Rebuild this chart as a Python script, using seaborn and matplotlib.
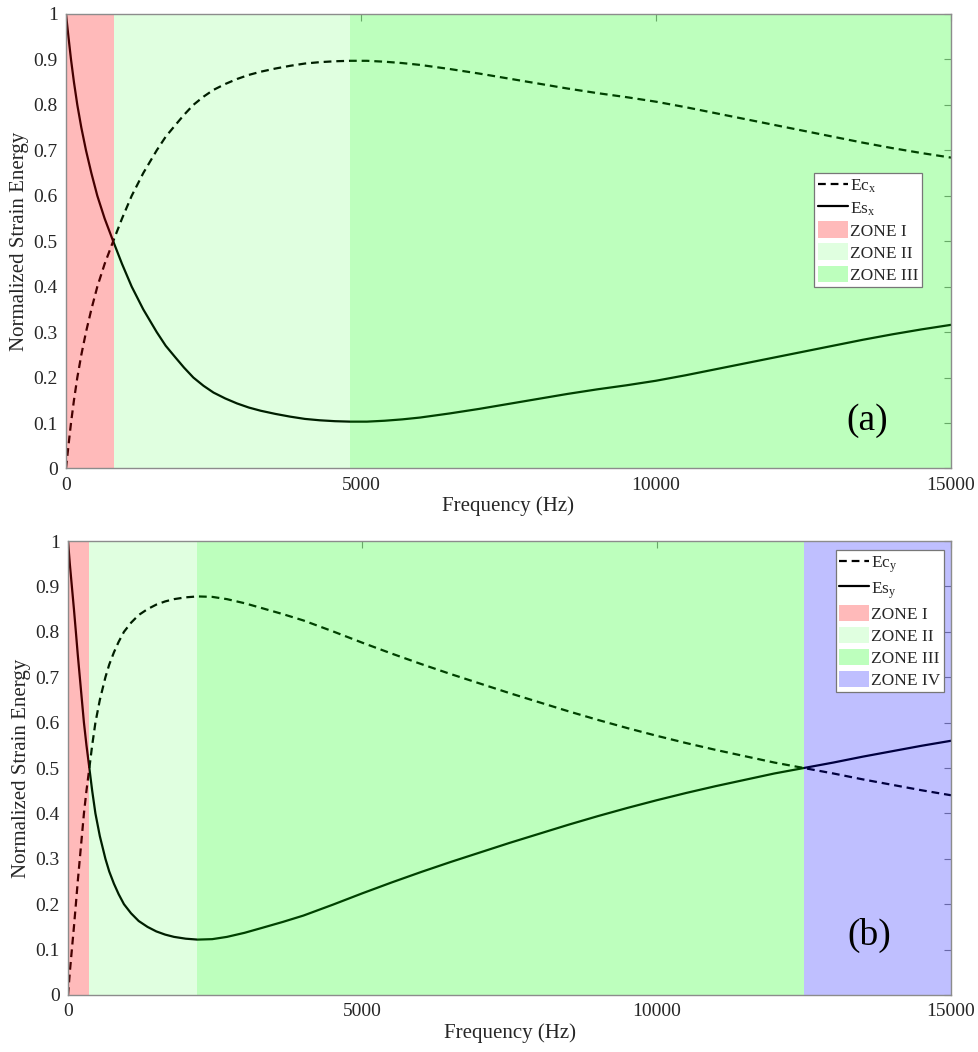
import numpy as np
import pandas as pd
import matplotlib
matplotlib.use("Agg")
import matplotlib.pyplot as plt
from matplotlib.patches import Patch
from matplotlib.lines import Line2D
import seaborn as sns

# ---------------- data ----------------
freq_x = [0, 40, 85, 135, 192, 260, 339, 430, 531, 655, 800, 950, 1114, 1310,
          1538, 1690, 1850, 2000, 2159, 2330, 2500, 2700, 2900, 3100, 3300,
          3550, 3800, 4050, 4300, 4560, 4820, 5100, 5400, 5700, 6000, 6500,
          7000, 7500, 8000, 8500, 9000, 9500, 10000, 10500, 11000, 11500,
          12000, 12500, 13000, 13500, 14000, 14500, 15000]
es_x = [1.000, 0.952, 0.900, 0.850, 0.800, 0.750, 0.700, 0.650, 0.600, 0.550,
        0.500, 0.450, 0.400, 0.350, 0.300, 0.270, 0.245, 0.222, 0.200, 0.182,
        0.167, 0.154, 0.143, 0.134, 0.127, 0.120, 0.114, 0.109, 0.106, 0.104,
        0.103, 0.103, 0.105, 0.108, 0.112, 0.121, 0.131, 0.142, 0.153, 0.164,
        0.174, 0.183, 0.193, 0.205, 0.218, 0.231, 0.244, 0.257, 0.270, 0.283,
        0.295, 0.306, 0.316]
ec_x = [0.000, 0.048, 0.100, 0.150, 0.200, 0.250, 0.300, 0.350, 0.400, 0.450,
        0.500, 0.550, 0.600, 0.650, 0.700, 0.730, 0.755, 0.778, 0.800, 0.818,
        0.833, 0.846, 0.857, 0.866, 0.873, 0.880, 0.886, 0.891, 0.894, 0.896,
        0.897, 0.897, 0.895, 0.892, 0.888, 0.879, 0.869, 0.858, 0.847, 0.836,
        0.826, 0.817, 0.807, 0.795, 0.782, 0.769, 0.756, 0.743, 0.730, 0.717,
        0.705, 0.694, 0.684]

freq_y = [0, 30, 65, 100, 133, 165, 200, 235, 270, 313, 362, 410, 465, 540, 635,
          700, 780, 860, 950, 1070, 1200, 1350, 1500, 1650, 1800, 2000, 2200,
          2450, 2700, 3000, 3300, 3650, 4000, 4500, 5000, 5500, 6000, 6500,
          7000, 7500, 8000, 8500, 9000, 9500, 10000, 10500, 11000, 11500,
          12000, 12500, 13000, 13500, 14000, 14500, 15000]
es_y = [1.000, 0.950, 0.900, 0.850, 0.800, 0.750, 0.700, 0.650, 0.600, 0.550,
        0.500, 0.450, 0.400, 0.350, 0.300, 0.272, 0.245, 0.222, 0.200, 0.180,
        0.163, 0.150, 0.140, 0.133, 0.128, 0.124, 0.122, 0.123, 0.128, 0.137,
        0.148, 0.161, 0.175, 0.199, 0.224, 0.248, 0.271, 0.293, 0.314, 0.335,
        0.355, 0.375, 0.394, 0.412, 0.429, 0.445, 0.460, 0.474, 0.488, 0.500,
        0.512, 0.525, 0.537, 0.549, 0.560]
ec_y = [0.000, 0.050, 0.100, 0.150, 0.200, 0.250, 0.300, 0.350, 0.400, 0.450,
        0.500, 0.550, 0.600, 0.650, 0.700, 0.728, 0.755, 0.778, 0.800, 0.820,
        0.837, 0.850, 0.860, 0.867, 0.872, 0.876, 0.878, 0.877, 0.872, 0.863,
        0.852, 0.839, 0.825, 0.801, 0.776, 0.752, 0.729, 0.707, 0.686, 0.665,
        0.645, 0.625, 0.606, 0.588, 0.571, 0.555, 0.540, 0.526, 0.512, 0.500,
        0.488, 0.475, 0.463, 0.451, 0.440]

zone_edges_a = [0, 812, 4820, 15000]
zone_edges_b = [0, 362, 2196, 12500, 15000]
zone_names = ["ZONE I", "ZONE II", "ZONE III", "ZONE IV"]
zone_colors = ["#ff0000", "#00ff00", "#00ff00", "#0000ff"]
zone_alphas = [0.27, 0.12, 0.26, 0.25]

ytick_vals = [0, 0.1, 0.2, 0.3, 0.4, 0.5, 0.6, 0.7, 0.8, 0.9, 1.0]
ytick_labels = ["0", "0.1", "0.2", "0.3", "0.4", "0.5", "0.6", "0.7", "0.8", "0.9", "1"]
xtick_vals = [0, 5000, 10000, 15000]
xtick_labels = ["0", "5000", "10000", "15000"]

# ---------------- style ----------------
sns.set_theme(style="white")
plt.rcParams["font.family"] = ["Liberation Serif", "DejaVu Serif"]
plt.rcParams["mathtext.fontset"] = "custom"
plt.rcParams["mathtext.rm"] = "Liberation Serif"
plt.rcParams["mathtext.it"] = "Liberation Serif:italic"

DASH = (0, (3.5, 2.2))
FRAME = "#8c8c8c"
TXT = "#262626"

fig = plt.figure(figsize=(9.79, 10.52), dpi=100)
ax1 = fig.add_axes([0.0674, 0.5547, 0.9040, 0.4320])
ax2 = fig.add_axes([0.0695, 0.0542, 0.9019, 0.4315])


def draw(ax, freq, ec, es, edges, sub, panel, anchor, nzones):
    df = pd.DataFrame({"freq": freq, "ec": ec, "es": es})
    sns.lineplot(data=df, x="freq", y="ec", ax=ax, color="black", lw=1.6,
                 linestyle=DASH, estimator=None, zorder=2)
    sns.lineplot(data=df, x="freq", y="es", ax=ax, color="black", lw=1.6,
                 estimator=None, zorder=2)
    for i in range(nzones):
        ax.axvspan(edges[i], edges[i + 1], color=zone_colors[i],
                   alpha=zone_alphas[i], lw=0, zorder=2.2)
    ax.set_xlim(0, 15000)
    ax.set_ylim(0, 1)
    ax.set_xticks(xtick_vals)
    ax.set_xticklabels(xtick_labels)
    ax.set_yticks(ytick_vals)
    ax.set_yticklabels(ytick_labels)
    ax.tick_params(direction="in", top=True, right=True, length=5, width=0.8,
                   color=FRAME, labelsize=14, labelcolor=TXT, pad=6)
    for s in ax.spines.values():
        s.set_color(FRAME)
        s.set_linewidth(1.0)
        s.set_zorder(5)
    ax.set_xlabel("Frequency (Hz)", fontsize=15, color=TXT, labelpad=2)
    ax.set_ylabel("Normalized Strain Energy", fontsize=15, color=TXT,
                  labelpad=3)
    handles = [Line2D([], [], color="black", lw=1.6, linestyle=DASH),
               Line2D([], [], color="black", lw=1.6)]
    labels = [r"Ec$_{\mathrm{%s}}$" % sub, r"Es$_{\mathrm{%s}}$" % sub]
    for i in range(nzones):
        handles.append(Patch(facecolor=zone_colors[i], alpha=zone_alphas[i],
                             edgecolor="none"))
        labels.append(zone_names[i])
    leg = ax.legend(handles, labels, loc="upper right", bbox_to_anchor=anchor,
                    bbox_transform=ax.transAxes, fontsize=12.5, frameon=True,
                    fancybox=False, framealpha=1, edgecolor="#777777",
                    borderpad=0.2, labelspacing=0.22, handlelength=1.75,
                    handleheight=1.1, handletextpad=0.1, borderaxespad=0)
    leg.get_frame().set_linewidth(0.9)
    leg.set_zorder(6)
    ax.text(*panel[1], panel[0], transform=ax.transAxes, fontsize=27,
            ha="center", va="center", color="black", zorder=6)


draw(ax1, freq_x, ec_x, es_x, zone_edges_a, "x", ("(a)", (0.905, 0.105)),
     (0.967, 0.650), 3)
draw(ax2, freq_y, ec_y, es_y, zone_edges_b, "y", ("(b)", (0.907, 0.132)),
     (0.992, 0.980), 4)

fig.savefig("out.png", dpi=100)
